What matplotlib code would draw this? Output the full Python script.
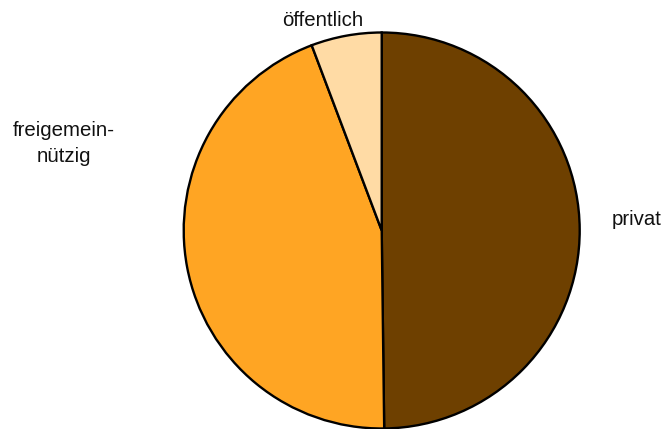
import matplotlib
matplotlib.use("Agg")
import matplotlib.pyplot as plt

categories = ["privat", "freigemein-\nnützig", "öffentlich"]
values = [49.8, 44.45, 5.75]
colors = ["#6E4000", "#FFA523", "#FFDBA5"]

W, H = 664, 429
fig = plt.figure(figsize=(W / 100, H / 100), dpi=100)
plt.rcParams['font.family'] = ['Liberation Sans', 'DejaVu Sans']

cx, cy, r = 381.7, 230.5, 198.0
ax = fig.add_axes([(cx - r) / W, (H - cy - r) / H, 2 * r / W, 2 * r / H])
ax.pie(values, colors=colors, startangle=90, counterclock=False,
       wedgeprops=dict(edgecolor="black", linewidth=1.7), radius=1.0)
ax.set_xlim(-1, 1)
ax.set_ylim(-1, 1)
ax.set_aspect('auto')
ax.axis('off')

def px(x, y):
    return ((x - cx) / r, (cy - y) / r)

label_pos = [(637.0, 225.0), (64.0, 136.0), (322.5, 26.5)]
for lab, (x, y) in zip(categories, label_pos):
    lines = lab.split("\n")
    for i, ln in enumerate(lines):
        dx, dy = px(x, y + i * 25.7)
        ax.text(dx, dy, ln, ha='center', va='baseline', fontsize=14.7,
                color='#111111', clip_on=False)

fig.savefig("out.png", dpi=100)
